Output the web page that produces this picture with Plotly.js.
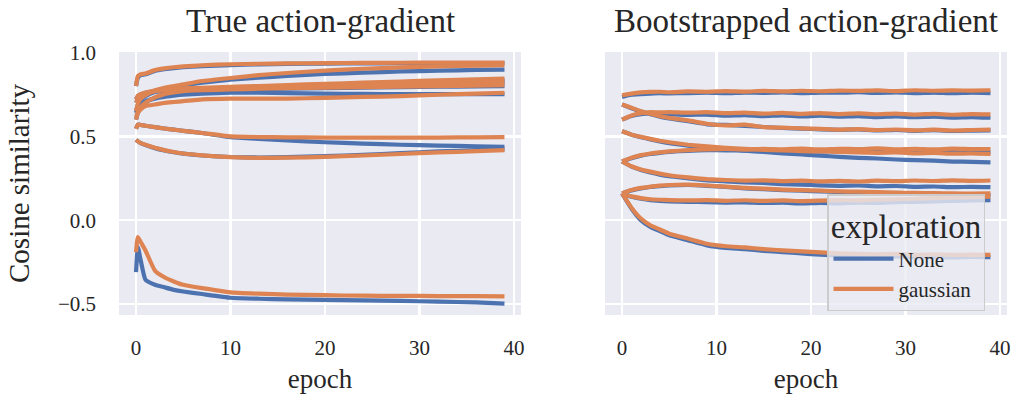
<!DOCTYPE html>
<html>
<head>
<meta charset="utf-8">
<script src="https://cdn.plot.ly/plotly-3.0.1.min.js"></script>
<style>html,body{margin:0;padding:0;background:#fff;}#chart{width:1013px;height:397px;}</style>
</head>
<body>
<div id="chart"></div>
<script>
// ---------- data ----------
const panelTitles = ["True action-gradient", "Bootstrapped action-gradient"];
const seriesNames = ["None", "gaussian"];
const xLabel = "epoch";
const yLabel = "Cosine similarity";

// Left panel: True action-gradient
const epochsTrue = [0, 0.2, 0.5, 1, 2, 3, 4, 5, 7, 10, 13, 16, 20, 24, 28, 32, 36, 39];
const trueNone = [
  [0.80, 0.85, 0.865, 0.87, 0.89, 0.90, 0.907, 0.912, 0.919, 0.925, 0.929, 0.932, 0.934, 0.935, 0.936, 0.937, 0.937, 0.937],
  [0.70, 0.72, 0.735, 0.75, 0.77, 0.785, 0.795, 0.805, 0.82, 0.838, 0.85, 0.86, 0.872, 0.88, 0.887, 0.892, 0.896, 0.898],
  [0.65, 0.69, 0.72, 0.74, 0.765, 0.772, 0.777, 0.78, 0.785, 0.79, 0.795, 0.80, 0.807, 0.813, 0.82, 0.826, 0.831, 0.835],
  [0.72, 0.74, 0.75, 0.76, 0.768, 0.773, 0.776, 0.778, 0.781, 0.785, 0.789, 0.793, 0.798, 0.803, 0.808, 0.812, 0.816, 0.82],
  [0.60, 0.64, 0.67, 0.70, 0.73, 0.75, 0.76, 0.768, 0.773, 0.778, 0.781, 0.784, 0.787, 0.79, 0.793, 0.796, 0.798, 0.80],
  [0.64, 0.67, 0.69, 0.71, 0.725, 0.735, 0.742, 0.748, 0.755, 0.76, 0.76, 0.758, 0.755, 0.753, 0.752, 0.752, 0.752, 0.752],
  [0.545, 0.57, 0.568, 0.563, 0.555, 0.547, 0.54, 0.533, 0.52, 0.495, 0.485, 0.476, 0.465, 0.457, 0.45, 0.445, 0.441, 0.438],
  [0.48, 0.47, 0.46, 0.448, 0.43, 0.416, 0.405, 0.397, 0.386, 0.377, 0.374, 0.376, 0.382, 0.39, 0.40, 0.41, 0.418, 0.422],
  [-0.31, -0.16, -0.24, -0.355, -0.385, -0.40, -0.415, -0.425, -0.44, -0.462, -0.468, -0.472, -0.475, -0.478, -0.481, -0.485, -0.49, -0.497]
];
const trueGaussian = [
  [0.80, 0.86, 0.87, 0.875, 0.895, 0.905, 0.912, 0.917, 0.924, 0.93, 0.933, 0.935, 0.937, 0.938, 0.939, 0.94, 0.94, 0.94],
  [0.70, 0.725, 0.74, 0.755, 0.775, 0.79, 0.80, 0.81, 0.83, 0.848, 0.865, 0.878, 0.892, 0.903, 0.911, 0.917, 0.922, 0.925],
  [0.65, 0.695, 0.725, 0.745, 0.77, 0.777, 0.782, 0.786, 0.79, 0.795, 0.80, 0.806, 0.813, 0.82, 0.827, 0.834, 0.84, 0.845],
  [0.72, 0.742, 0.752, 0.762, 0.77, 0.775, 0.778, 0.78, 0.783, 0.787, 0.791, 0.795, 0.80, 0.806, 0.811, 0.816, 0.821, 0.825],
  [0.60, 0.645, 0.675, 0.70, 0.732, 0.752, 0.762, 0.77, 0.775, 0.78, 0.784, 0.787, 0.79, 0.793, 0.796, 0.80, 0.803, 0.805],
  [0.62, 0.64, 0.66, 0.68, 0.69, 0.70, 0.705, 0.71, 0.72, 0.725, 0.725, 0.725, 0.73, 0.735, 0.74, 0.748, 0.755, 0.76],
  [0.545, 0.57, 0.568, 0.563, 0.555, 0.547, 0.54, 0.533, 0.52, 0.50, 0.496, 0.494, 0.493, 0.493, 0.493, 0.493, 0.494, 0.495],
  [0.48, 0.47, 0.46, 0.45, 0.432, 0.418, 0.407, 0.398, 0.387, 0.376, 0.372, 0.373, 0.378, 0.386, 0.395, 0.404, 0.412, 0.418],
  [-0.19, -0.10, -0.13, -0.18, -0.30, -0.34, -0.365, -0.385, -0.405, -0.43, -0.438, -0.443, -0.447, -0.45, -0.451, -0.452, -0.453, -0.454]
];

// Right panel: Bootstrapped action-gradient
const epochsBoot = [0, 1, 2, 3, 4, 5, 7, 9, 11, 13, 15, 17, 19, 21, 23, 25, 27, 29, 31, 33, 35, 37, 39];
const bootNone = [
  [0.735, 0.748, 0.752, 0.755, 0.757, 0.756, 0.758, 0.760, 0.757, 0.761, 0.759, 0.762, 0.758, 0.761, 0.760, 0.763, 0.759, 0.762, 0.758, 0.761, 0.757, 0.760, 0.758],
  [0.60, 0.622, 0.633, 0.637, 0.634, 0.632, 0.628, 0.630, 0.624, 0.627, 0.621, 0.625, 0.619, 0.623, 0.618, 0.621, 0.615, 0.619, 0.614, 0.617, 0.612, 0.615, 0.611],
  [0.69, 0.668, 0.648, 0.632, 0.618, 0.607, 0.59, 0.572, 0.568, 0.563, 0.556, 0.550, 0.546, 0.542, 0.539, 0.541, 0.535, 0.538, 0.533, 0.537, 0.532, 0.534, 0.536],
  [0.53, 0.51, 0.495, 0.482, 0.47, 0.46, 0.445, 0.432, 0.425, 0.415, 0.407, 0.398, 0.392, 0.385, 0.378, 0.372, 0.368, 0.362, 0.358, 0.355, 0.35, 0.348, 0.345],
  [0.35, 0.37, 0.385, 0.395, 0.402, 0.408, 0.414, 0.418, 0.417, 0.415, 0.418, 0.413, 0.415, 0.411, 0.414, 0.409, 0.412, 0.407, 0.410, 0.405, 0.408, 0.404, 0.404],
  [0.35, 0.32, 0.30, 0.285, 0.272, 0.262, 0.25, 0.238, 0.232, 0.226, 0.222, 0.215, 0.212, 0.208, 0.205, 0.207, 0.202, 0.204, 0.199, 0.201, 0.197, 0.199, 0.197],
  [0.16, 0.178, 0.19, 0.198, 0.203, 0.207, 0.21, 0.205, 0.198, 0.19, 0.185, 0.18, 0.176, 0.172, 0.168, 0.165, 0.162, 0.16, 0.157, 0.155, 0.153, 0.151, 0.15],
  [0.155, 0.14, 0.128, 0.12, 0.116, 0.113, 0.11, 0.108, 0.105, 0.107, 0.103, 0.105, 0.10, 0.103, 0.101, 0.105, 0.103, 0.108, 0.11, 0.113, 0.115, 0.118, 0.12],
  [0.16, 0.07, 0.0, -0.04, -0.065, -0.09, -0.12, -0.15, -0.165, -0.172, -0.183, -0.19, -0.198, -0.205, -0.21, -0.212, -0.218, -0.215, -0.22, -0.218, -0.222, -0.219, -0.22]
];
const bootGaussian = [
  [0.745, 0.755, 0.762, 0.765, 0.766, 0.763, 0.768, 0.766, 0.770, 0.767, 0.771, 0.768, 0.772, 0.769, 0.773, 0.771, 0.774, 0.770, 0.775, 0.772, 0.774, 0.773, 0.775],
  [0.60, 0.625, 0.638, 0.645, 0.643, 0.645, 0.641, 0.644, 0.638, 0.642, 0.636, 0.640, 0.634, 0.639, 0.633, 0.637, 0.632, 0.636, 0.630, 0.634, 0.629, 0.633, 0.631],
  [0.69, 0.67, 0.65, 0.635, 0.62, 0.61, 0.595, 0.575, 0.565, 0.57, 0.555, 0.552, 0.548, 0.545, 0.540, 0.543, 0.538, 0.541, 0.536, 0.540, 0.535, 0.538, 0.540],
  [0.53, 0.51, 0.497, 0.485, 0.474, 0.465, 0.45, 0.44, 0.432, 0.426, 0.42, 0.417, 0.412, 0.41, 0.407, 0.405, 0.402, 0.404, 0.399, 0.401, 0.397, 0.398, 0.395],
  [0.35, 0.372, 0.388, 0.398, 0.405, 0.41, 0.418, 0.422, 0.425, 0.421, 0.426, 0.423, 0.427, 0.422, 0.426, 0.424, 0.428, 0.423, 0.426, 0.422, 0.427, 0.424, 0.424],
  [0.35, 0.322, 0.303, 0.29, 0.278, 0.268, 0.255, 0.245, 0.24, 0.236, 0.238, 0.233, 0.236, 0.232, 0.235, 0.231, 0.236, 0.233, 0.237, 0.234, 0.238, 0.235, 0.237],
  [0.16, 0.18, 0.193, 0.2, 0.206, 0.21, 0.212, 0.207, 0.2, 0.193, 0.188, 0.183, 0.179, 0.176, 0.172, 0.17, 0.167, 0.165, 0.163, 0.162, 0.16, 0.159, 0.16],
  [0.155, 0.142, 0.132, 0.125, 0.122, 0.12, 0.118, 0.12, 0.116, 0.119, 0.115, 0.118, 0.114, 0.117, 0.12, 0.118, 0.122, 0.125, 0.128, 0.132, 0.135, 0.138, 0.14],
  [0.16, 0.075, 0.01, -0.03, -0.055, -0.08, -0.11, -0.14, -0.155, -0.162, -0.172, -0.18, -0.186, -0.192, -0.197, -0.2, -0.203, -0.201, -0.206, -0.204, -0.207, -0.205, -0.206]
];

// ---------- drawing ----------
const colors = {None: "#4c72b0", gaussian: "#dd8452"};
const FONT = "'Liberation Serif', 'Times New Roman', serif";
const TXT = "#262626";

const traces = [];
function addSet(xs, sets, name, xa, ya, legendFirst) {
  sets.forEach((ys, i) => {
    traces.push({
      x: xs, y: ys, xaxis: xa, yaxis: ya,
      type: "scatter", mode: "lines",
      name: name, legendgroup: name,
      showlegend: legendFirst && i === 0,
      line: {color: colors[name], width: 4.2, shape: "spline", smoothing: 0.4},
      hoverinfo: "skip"
    });
  });
}
addSet(epochsTrue, trueNone, seriesNames[0], "x", "y", true);
addSet(epochsBoot, bootNone, seriesNames[0], "x2", "y2", false);
addSet(epochsTrue, trueGaussian, seriesNames[1], "x", "y", true);
addSet(epochsBoot, bootGaussian, seriesNames[1], "x2", "y2", false);

const W = 1013, H = 397;
const px = v => v / W, py = v => 1 - v / H;

const xCommon = {
  range: [-1.8, 40.75], tickvals: [0, 10, 20, 30, 40],
  showgrid: true, gridcolor: "#ffffff", gridwidth: 2.5,
  zeroline: false, showline: false, ticks: "",
  ticklabelstandoff: 18,
  tickfont: {family: FONT, size: 21, color: TXT},
  title: {text: xLabel, font: {family: FONT, size: 27, color: TXT}, standoff: 10}
};
const yCommon = {
  range: [-0.565, 1.003], tickvals: [-0.5, 0, 0.5, 1.0], tickformat: ".1f",
  showgrid: true, gridcolor: "#ffffff", gridwidth: 2.5,
  zeroline: false, showline: false, ticks: "",
  tickfont: {family: FONT, size: 21, color: TXT}
};

const layout = {
  width: W, height: H,
  margin: {l: 0, r: 0, t: 0, b: 0},
  paper_bgcolor: "#ffffff", plot_bgcolor: "#eaeaf2",
  font: {family: FONT, color: TXT},
  xaxis: Object.assign({}, xCommon, {domain: [px(119), px(521)], anchor: "y"}),
  xaxis2: Object.assign({}, xCommon, {domain: [px(605), px(1007)], anchor: "y2"}),
  yaxis: Object.assign({}, yCommon, {domain: [py(315), py(52)], anchor: "x",
    ticklabelstandoff: 22,
    title: {text: yLabel, font: {family: FONT, size: 29, color: TXT}, standoff: 19}}),
  yaxis2: Object.assign({}, yCommon, {domain: [py(315), py(52)], anchor: "x2", matches: "y", showticklabels: false}),
  annotations: [
    {text: panelTitles[0], x: px(320), y: py(21), xref: "paper", yref: "paper",
     xanchor: "center", yanchor: "middle", showarrow: false,
     font: {family: FONT, size: 33, color: TXT}},
    {text: panelTitles[1], x: px(806), y: py(21), xref: "paper", yref: "paper",
     xanchor: "center", yanchor: "middle", showarrow: false,
     font: {family: FONT, size: 33, color: TXT}}
  ],
  legend: {
    x: px(827), y: py(194), xanchor: "left", yanchor: "top",
    bgcolor: "rgba(234,234,242,0.8)", bordercolor: "#cccccc", borderwidth: 1.5,
    font: {family: FONT, size: 21, color: TXT},
    title: {text: "exploration", side: "top center", font: {family: FONT, size: 33, color: TXT}},
    itemwidth: 60,
    tracegroupgap: 0
  },
  showlegend: true
};

Plotly.newPlot("chart", traces, layout, {staticPlot: true, displayModeBar: false});
</script>
</body>
</html>
